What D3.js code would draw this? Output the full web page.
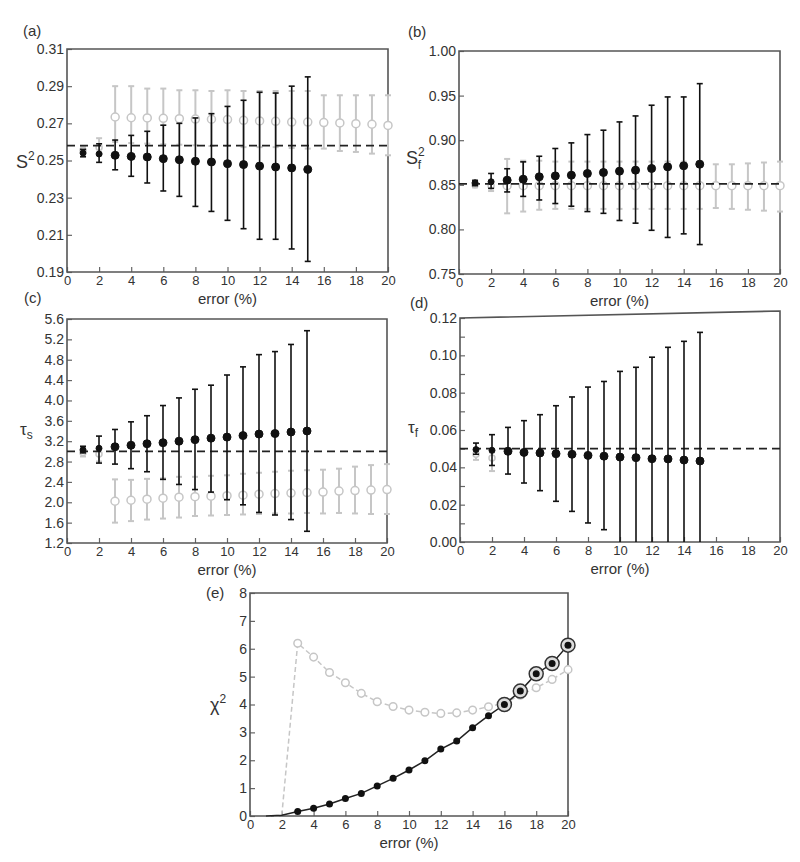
<!DOCTYPE html>
<html>
<head>
<meta charset="utf-8">
<script src="https://cdn.jsdelivr.net/npm/d3@7"></script>
<style>
  body { margin: 0; background: #fff; }
  text { font-family: 'Liberation Sans', Arial, sans-serif; fill: #333; }
</style>
</head>
<body>
<script>
'use strict'

const width = 800
const height = 862

// error level (%)
const xBlk = d3.range(1, 16)
const xGry = d3.range(1, 21)
const xTicks = d3.range(0, 21, 2)

// (a) S^2
const aBlk = [0.254, 0.2535, 0.2528, 0.2522, 0.2519, 0.251, 0.2504, 0.2496, 0.2492, 0.2483, 0.2478, 0.247, 0.2465, 0.246, 0.2452]
const aBlkHi = [0.256, 0.259, 0.261, 0.2635, 0.2657, 0.269, 0.270, 0.2729, 0.2752, 0.2791, 0.2824, 0.2867, 0.2863, 0.290, 0.295]
const aBlkLo = [0.252, 0.249, 0.245, 0.2415, 0.2379, 0.2336, 0.2307, 0.2253, 0.2226, 0.2178, 0.2133, 0.2076, 0.2076, 0.2024, 0.1957]
const aGry = [0.2555, 0.257, 0.2734, 0.273, 0.2729, 0.2727, 0.2725, 0.2723, 0.2722, 0.272, 0.2716, 0.2713, 0.2711, 0.2707, 0.2707, 0.2704, 0.2702, 0.2698, 0.2695, 0.2689]
const aGryHi = [0.2575, 0.262, 0.290, 0.290, 0.2887, 0.2887, 0.2878, 0.2878, 0.2874, 0.2878, 0.2874, 0.2874, 0.2874, 0.2874, 0.2874, 0.2851, 0.2851, 0.2851, 0.2851, 0.2851]
const aGryLo = [0.2535, 0.254, 0.260, 0.2594, 0.2591, 0.2587, 0.2585, 0.2582, 0.2578, 0.2578, 0.2572, 0.2572, 0.2572, 0.2567, 0.2564, 0.2564, 0.2551, 0.2546, 0.2537, 0.2528]
const aRef = 0.258
const aTicks = d3.range(0.19, 0.3101, 0.02)

// (b) S^2_f
const bBlk = [0.8522, 0.8534, 0.8552, 0.8563, 0.859, 0.860, 0.8608, 0.8627, 0.8638, 0.8653, 0.8664, 0.8683, 0.8701, 0.8713, 0.8731]
const bBlkHi = [0.855, 0.8627, 0.868, 0.8757, 0.882, 0.8907, 0.897, 0.9063, 0.9112, 0.9205, 0.9272, 0.9392, 0.9485, 0.9485, 0.9634]
const bBlkLo = [0.849, 0.846, 0.842, 0.837, 0.833, 0.829, 0.826, 0.820, 0.818, 0.810, 0.807, 0.799, 0.791, 0.795, 0.783]
const bGry = [0.850, 0.849, 0.849, 0.849, 0.849, 0.849, 0.849, 0.849, 0.849, 0.849, 0.849, 0.849, 0.849, 0.849, 0.849, 0.849, 0.849, 0.849, 0.849, 0.849]
const bGryHi = [0.852, 0.855, 0.879, 0.877, 0.877, 0.876, 0.876, 0.876, 0.876, 0.876, 0.876, 0.876, 0.876, 0.876, 0.876, 0.873, 0.873, 0.874, 0.875, 0.876]
const bGryLo = [0.847, 0.843, 0.818, 0.820, 0.822, 0.823, 0.823, 0.823, 0.823, 0.823, 0.823, 0.823, 0.823, 0.823, 0.823, 0.824, 0.823, 0.822, 0.821, 0.820]
const bRef = 0.851
const bTicks = d3.range(0.75, 1.0001, 0.05)

// (c) tau_s
const cBlk = [3.03, 3.06, 3.09, 3.12, 3.15, 3.17, 3.2, 3.23, 3.26, 3.28, 3.31, 3.34, 3.35, 3.38, 3.4]
const cBlkHi = [3.1, 3.3, 3.43, 3.58, 3.7, 3.9, 4.05, 4.22, 4.3, 4.5, 4.66, 4.9, 4.96, 5.1, 5.37]
const cBlkLo = [2.97, 2.77, 2.75, 2.66, 2.6, 2.45, 2.35, 2.25, 2.2, 2.05, 1.95, 1.8, 1.75, 1.66, 1.43]
const cGry = [2.98, 2.95, 2.02, 2.04, 2.06, 2.08, 2.1, 2.11, 2.12, 2.13, 2.14, 2.16, 2.17, 2.18, 2.19, 2.2, 2.22, 2.23, 2.24, 2.25]
const cGryHi = [3.05, 3.05, 2.45, 2.44, 2.46, 2.47, 2.5, 2.5, 2.52, 2.53, 2.56, 2.58, 2.6, 2.62, 2.63, 2.64, 2.66, 2.7, 2.73, 2.75]
const cGryLo = [2.9, 2.8, 1.6, 1.63, 1.66, 1.68, 1.7, 1.73, 1.74, 1.75, 1.76, 1.77, 1.78, 1.78, 1.79, 1.78, 1.79, 1.78, 1.77, 1.77]
const cRef = 3.0
const cTicks = d3.range(1.2, 5.601, 0.4)

// (d) tau_f
const dBlk = [0.0495, 0.0491, 0.0486, 0.048, 0.0477, 0.0473, 0.047, 0.0464, 0.046, 0.0455, 0.0452, 0.0446, 0.0445, 0.0439, 0.0434]
const dBlkHi = [0.053, 0.0575, 0.0614, 0.065, 0.0682, 0.073, 0.0777, 0.083, 0.086, 0.0914, 0.0936, 0.099, 0.1043, 0.1075, 0.1123]
const dBlkLo = [0.047, 0.041, 0.0364, 0.0316, 0.0275, 0.0218, 0.0164, 0.0102, 0.0066, 0, 0, 0, 0, 0, 0]
const dGryX = [1, 2]
const dGry = [0.047, 0.045]
const dGryHi = [0.050, 0.048]
const dGryLo = [0.044, 0.038]
const dRef = 0.05
const dTicks = d3.range(0, 0.1201, 0.01)

// (e) chi^2
const eBlk = [0.0, 0.03, 0.16, 0.28, 0.43, 0.63, 0.81, 1.08, 1.35, 1.65, 1.98, 2.4, 2.69, 3.17, 3.6, 4.0, 4.48, 5.1, 5.47, 6.13]
const eGry = [0.0, 0.02, 6.2, 5.7, 5.15, 4.78, 4.4, 4.1, 3.93, 3.8, 3.72, 3.68, 3.7, 3.8, 3.92, 4.05, 4.33, 4.6, 4.9, 5.25]
const eRing = [16, 17, 18, 19, 20]
const eTicks = d3.range(0, 9, 1)

const svg = d3.select('body').append('svg')
    .attr('width', width).attr('height', height)

svg.append('rect').attr('width', width).attr('height', height).attr('fill', '#fff')

const GRAY = '#c6c6c6'

function panel(cfg) {
    const g = svg.append('g')
    const x = d3.scaleLinear().domain([0, 20]).range([cfg.l, cfg.r])
    const y = d3.scaleLinear().domain(cfg.yDom).range([cfg.b, cfg.t])

    const xAxis = d3.axisBottom(x).tickValues(xTicks).tickSize(-5).tickPadding(4).tickFormat(d3.format('d'))
    const yAxis = d3.axisLeft(y).tickValues(cfg.yTicks).tickSize(-5).tickPadding(3).tickFormat(cfg.fmt)

    const gx = g.append('g').attr('transform', `translate(0,${cfg.b})`).call(xAxis)
    const gy = g.append('g').attr('transform', `translate(${cfg.l},0)`).call(yAxis)
    for (const ax of [gx, gy]) {
        ax.select('.domain').remove()
        ax.selectAll('.tick line').attr('stroke', '#666').attr('stroke-width', 1.2)
        ax.selectAll('.tick text').style('font-family', "'Liberation Sans', Arial, sans-serif").attr('fill', '#333')
    }
    gx.selectAll('.tick text').style('font-size', '13px')
    gy.selectAll('.tick text').style('font-size', '14px')

    // frame (top edge may be tilted as in the scan)
    const tilt = cfg.tilt || 0
    g.append('path')
        .attr('d', `M${cfg.l},${cfg.t}L${cfg.r},${cfg.t - tilt}L${cfg.r},${cfg.b}L${cfg.l},${cfg.b}Z`)
        .attr('fill', 'none').attr('stroke', '#555').attr('stroke-width', 1.6)

    g.append('text').attr('x', (cfg.l + cfg.r) / 2).attr('y', cfg.b + 32)
        .attr('text-anchor', 'middle').style('font-size', '15px').text('error (%)')

    g.append('text').attr('x', cfg.labX).attr('y', cfg.labY)
        .style('font-size', '15px').text(cfg.tag)

    return { g, x, y }
}

function errorSeries(p, xs, v, lo, hi, style) {
    const cap = 3
    const sel = p.g.append('g').selectAll('g').data(xs.map((d, i) => ({ x: d, v: v[i], lo: lo[i], hi: hi[i] })))
        .join('g')
    sel.append('line')
        .attr('x1', d => p.x(d.x)).attr('x2', d => p.x(d.x))
        .attr('y1', d => p.y(d.lo)).attr('y2', d => p.y(d.hi))
        .attr('stroke', style.color).attr('stroke-width', style.w)
    for (const k of ['lo', 'hi']) {
        sel.filter(d => d[k] > p.y.domain()[0])
            .append('line')
            .attr('x1', d => p.x(d.x) - cap).attr('x2', d => p.x(d.x) + cap)
            .attr('y1', d => p.y(d[k])).attr('y2', d => p.y(d[k]))
            .attr('stroke', style.color).attr('stroke-width', style.w)
    }
    sel.append('circle')
        .attr('cx', d => p.x(d.x)).attr('cy', d => p.y(d.v))
        .attr('r', d => d.x <= 2 ? style.r - 1 : style.r)
        .attr('fill', style.fill).attr('stroke', style.color).attr('stroke-width', style.sw)
}

function refLine(p, v) {
    p.g.append('line')
        .attr('x1', p.x(0)).attr('x2', p.x(20))
        .attr('y1', p.y(v)).attr('y2', p.y(v))
        .attr('stroke', '#222').attr('stroke-width', 1.6).attr('stroke-dasharray', '8,5')
}

const grayStyle = { color: GRAY, w: 2, r: 4, fill: '#fff', sw: 1.5 }
const blackStyle = { color: '#111', w: 1.6, r: 4, fill: '#111', sw: 1 }

// (a)
const pa = panel({ l: 67, r: 388, t: 49, b: 272, yDom: [0.19, 0.31], yTicks: aTicks, fmt: d3.format('.2f'), tag: '(a)', labX: 23, labY: 36 })
errorSeries(pa, xGry, aGry, aGryLo, aGryHi, grayStyle)
refLine(pa, aRef)
errorSeries(pa, xBlk, aBlk, aBlkLo, aBlkHi, blackStyle)
pa.g.append('text').attr('x', 16).attr('y', 168).style('font-size', '18px')
    .text('S').append('tspan').attr('dy', -8).style('font-size', '12px').text('2')

// (b)
const pb = panel({ l: 459, r: 780, t: 51, b: 274, yDom: [0.75, 1.0], yTicks: bTicks, fmt: d3.format('.2f'), tag: '(b)', labX: 408, labY: 37 })
errorSeries(pb, xGry, bGry, bGryLo, bGryHi, grayStyle)
refLine(pb, bRef)
errorSeries(pb, xBlk, bBlk, bBlkLo, bBlkHi, blackStyle)
const sb = pb.g.append('text').attr('x', 406).attr('y', 164).style('font-size', '18px').text('S')
sb.append('tspan').attr('dy', -8).style('font-size', '12px').text('2')
sb.append('tspan').attr('dx', -7).attr('dy', 13).style('font-size', '12px').text('f')

// (c)
const pc = panel({ l: 67, r: 387, t: 319, b: 543, yDom: [1.2, 5.6], yTicks: cTicks, fmt: d3.format('.1f'), tag: '(c)', labX: 24, labY: 303 })
errorSeries(pc, xGry, cGry, cGryLo, cGryHi, grayStyle)
refLine(pc, cRef)
errorSeries(pc, xBlk, cBlk, cBlkLo, cBlkHi, blackStyle)
pc.g.append('text').attr('x', 20).attr('y', 435).style('font-size', '17px')
    .text('τ').append('tspan').attr('dy', 4).style('font-size', '12px').text('s')

// (d)
const pd = panel({ l: 460, r: 780, t: 318, b: 542, yDom: [0, 0.12], yTicks: dTicks,
    fmt: (v, i) => i % 2 ? '' : d3.format('.2f')(v), tag: '(d)', labX: 410, labY: 308, tilt: 7 })
errorSeries(pd, dGryX, dGry, dGryLo, dGryHi, grayStyle)
refLine(pd, dRef)
errorSeries(pd, xBlk, dBlk, dBlkLo, dBlkHi, blackStyle)
pd.g.append('text').attr('x', 408).attr('y', 433).style('font-size', '17px')
    .text('τ').append('tspan').attr('dy', 4).style('font-size', '12px').text('f')

// (e)
const pe = panel({ l: 250, r: 568, t: 593, b: 816, yDom: [0, 8], yTicks: eTicks, fmt: d3.format('d'), tag: '(e)', labX: 206, labY: 598 })
const lineE = d3.line().x((d, i) => pe.x(xGry[i])).y(d => pe.y(d))
pe.g.append('path').attr('d', lineE(eGry))
    .attr('fill', 'none').attr('stroke', GRAY).attr('stroke-width', 1.5).attr('stroke-dasharray', '5,3')
pe.g.append('path').attr('d', lineE(eBlk))
    .attr('fill', 'none').attr('stroke', '#222').attr('stroke-width', 1.5)
pe.g.append('g').selectAll('circle').data(xGry.map((d, i) => ({ x: d, v: eGry[i] })).filter(d => d.x >= 3))
    .join('circle').attr('cx', d => pe.x(d.x)).attr('cy', d => pe.y(d.v)).attr('r', 3.8)
    .attr('fill', '#fff').attr('stroke', GRAY).attr('stroke-width', 1.5)
pe.g.append('g').selectAll('circle').data(xGry.map((d, i) => ({ x: d, v: eBlk[i] })).filter(d => eRing.includes(d.x)))
    .join('circle').attr('cx', d => pe.x(d.x)).attr('cy', d => pe.y(d.v)).attr('r', 7)
    .attr('fill', '#ddd').attr('stroke', '#333').attr('stroke-width', 1.5)
pe.g.append('g').selectAll('circle').data(xGry.map((d, i) => ({ x: d, v: eBlk[i] })).filter(d => d.x >= 3))
    .join('circle').attr('cx', d => pe.x(d.x)).attr('cy', d => pe.y(d.v)).attr('r', 3.5)
    .attr('fill', '#111')
pe.g.append('text').attr('x', 210).attr('y', 711).style('font-size', '18px')
    .text('χ').append('tspan').attr('dy', -8).style('font-size', '12px').text('2')
</script>
</body>
</html>
